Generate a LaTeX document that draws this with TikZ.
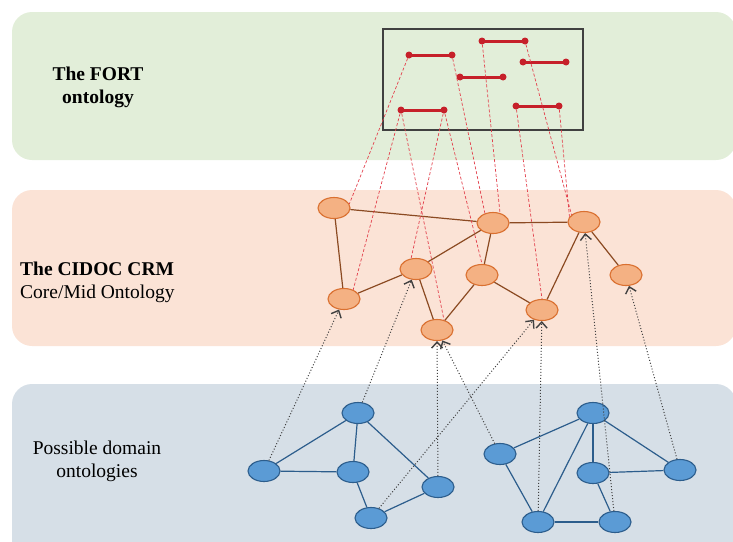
\documentclass[tikz,border=0pt]{standalone}
\usepackage{fontspec}
\setmainfont{Liberation Serif}
\usepackage{tikz}
\usetikzlibrary{arrows.meta,shapes.geometric}
\definecolor{bandgreen}{HTML}{E2EED9}
\definecolor{bandpeach}{HTML}{FBE3D6}
\definecolor{bandblue}{HTML}{D6DFE7}
\definecolor{crmfill}{HTML}{F4B183}
\definecolor{crmdraw}{HTML}{DA7030}
\definecolor{crmedge}{HTML}{8B4A22}
\definecolor{domfill}{HTML}{5B9BD5}
\definecolor{domdraw}{HTML}{2C5D8C}
\definecolor{fortred}{HTML}{C6202A}
\definecolor{linkred}{HTML}{E2404C}
\tikzset{%
  band/.style={rounded corners=20pt},
  crm/.style={ellipse,draw=crmdraw,fill=crmfill,line width=1.1pt,minimum width=32pt,minimum height=21pt,inner sep=0pt},
  dom/.style={ellipse,draw=domdraw,fill=domfill,line width=1.1pt,minimum width=32pt,minimum height=21pt,inner sep=0pt},
  arrow/.style={-{Straight Barb[length=6pt,width=11pt,line width=1.4pt]}, dotted, line width=1pt, draw=black!75}%
}

\begin{document}
\begin{tikzpicture}[
    x=1pt, y=-1pt,
    font=\fontsize{19.5}{23}\selectfont,
    fortbar/.style={
        fortred,
        line width=3pt
    },
    fortend/.style={
        circle,
        fill=fortred,
        inner sep=0pt,
        minimum size=7pt
    },
    link/.style={linkred, line width=0.7pt, dash pattern=on 3pt off 2pt},
    crmline/.style={crmedge, line width=1.2pt},
    domline/.style={draw=domdraw, line width=1.2pt}
]
\useasboundingbox (0,0) rectangle (733,541);

% Background bands
\fill[band, bandgreen] (12,12) rectangle (736,160);
\fill[band, bandpeach] (12,190) rectangle (736,346);
\fill[band, bandblue] (12,384) rectangle (736,580);

% Band labels
\node[font=\fontsize{19.5}{23}\selectfont\bfseries, align=center] (fortlabel) at (98,87)
{The FORT\\ontology};

\node[anchor=west, align=left, inner sep=0pt] (crmlabel) at (20,282)
{\textbf{The CIDOC CRM}\\Core/Mid Ontology};

\node[align=center] (domlabel) at (97,461)
{Possible domain\\ontologies};

% FORT box and its intervals
\node[draw=black!75, line width=1.2pt, minimum width=200pt, minimum height=101pt, inner sep=0pt] (fortbox) at (483,79.5) {};

\node[fortend] (fort1l) at (409,55) {};
\node[fortend] (fort1r) at (452,55) {};
\node[fortend] (fort2l) at (482,41) {};
\node[fortend] (fort2r) at (525,41) {};
\node[fortend] (fort3l) at (523,62) {};
\node[fortend] (fort3r) at (566,62) {};
\node[fortend] (fort4l) at (460,77) {};
\node[fortend] (fort4r) at (503,77) {};
\node[fortend] (fort5l) at (401,110) {};
\node[fortend] (fort5r) at (444,110) {};
\node[fortend] (fort6l) at (516,106) {};
\node[fortend] (fort6r) at (559,106) {};

\draw[fortbar] (fort1l.center) -- (fort1r.center);
\draw[fortbar] (fort2l.center) -- (fort2r.center);
\draw[fortbar] (fort3l.center) -- (fort3r.center);
\draw[fortbar] (fort4l.center) -- (fort4r.center);
\draw[fortbar] (fort5l.center) -- (fort5r.center);
\draw[fortbar] (fort6l.center) -- (fort6r.center);

% CIDOC CRM classes
\node[crm] (crm1) at (334,208) {};
\node[crm] (crm2) at (493,223) {};
\node[crm] (crm3) at (584,222) {};
\node[crm] (crm4) at (416,269) {};
\node[crm] (crm5) at (482,275) {};
\node[crm] (crm6) at (626,275) {};
\node[crm] (crm7) at (344,299) {};
\node[crm] (crm8) at (437,330) {};
\node[crm] (crm9) at (542,310) {};

\draw[crmline] (crm1) -- (crm2);
\draw[crmline] (crm1) -- (crm7);
\draw[crmline] (crm2) -- (crm3);
\draw[crmline] (crm2) -- (crm4);
\draw[crmline] (crm7) -- (crm4);
\draw[crmline] (crm2) -- (crm5);
\draw[crmline] (crm3) -- (crm6);
\draw[crmline] (crm3) -- (crm9);
\draw[crmline] (crm4) -- (crm8);
\draw[crmline] (crm5) -- (crm8);
\draw[crmline] (crm5) -- (crm9);

% FORT intervals mapped onto CRM classes
\draw[link] (fort1l) -- (crm1.15);
\draw[link] (fort1r) -- (crm2.130);
\draw[link] (fort2l) -- (crm2.55);
\draw[link] (fort2r) -- (crm3.150);
\draw[link] (fort6r) -- (crm3.160);
\draw[link] (fort5l) -- (crm7.45);
\draw[link] (fort5l) -- (crm8.55);
\draw[link] (fort5r) -- (crm4.115);
\draw[link] (fort5r) -- (crm5.north);
\draw[link] (fort6l) -- (crm9.north);

% Domain ontologies
\node[dom] (dom1) at (358,413) {};
\node[dom] (dom2) at (264,471) {};
\node[dom] (dom3) at (353,472) {};
\node[dom] (dom4) at (438,487) {};
\node[dom] (dom5) at (371,518) {};

\node[dom] (dom6) at (593,413) {};
\node[dom] (dom7) at (500,454) {};
\node[dom] (dom8) at (593,473) {};
\node[dom] (dom9) at (680,470) {};
\node[dom] (dom10) at (538,522) {};
\node[dom] (dom11) at (615,522) {};

\draw[domline] (dom1) -- (dom2);
\draw[domline] (dom1) -- (dom3);
\draw[domline] (dom1) -- (dom4);
\draw[domline] (dom2) -- (dom3);
\draw[domline] (dom3) -- (dom5);
\draw[domline] (dom5) -- (dom4);

\draw[domline] (dom6) -- (dom7);
\draw[domline] (dom6) -- (dom10);
\draw[domline] (dom6) -- (dom8);
\draw[domline] (dom6) -- (dom9);
\draw[domline] (dom7) -- (dom10);
\draw[domline] (dom8) -- (dom9);
\draw[domline] (dom8) -- (dom11);
\draw[domline] (dom10) -- (dom11);

% Domain classes specialising CRM classes
\draw[arrow] (dom2) -- (crm7);
\draw[arrow] (dom1) -- (crm4);
\draw[arrow] (dom4) -- (crm8);
\draw[arrow] (dom7) -- (crm8);
\draw[arrow] (dom5) -- (crm9);
\draw[arrow] (dom10) -- (crm9);
\draw[arrow] (dom11) -- (crm3);
\draw[arrow] (dom9) -- (crm6);

\end{tikzpicture}
\end{document}
